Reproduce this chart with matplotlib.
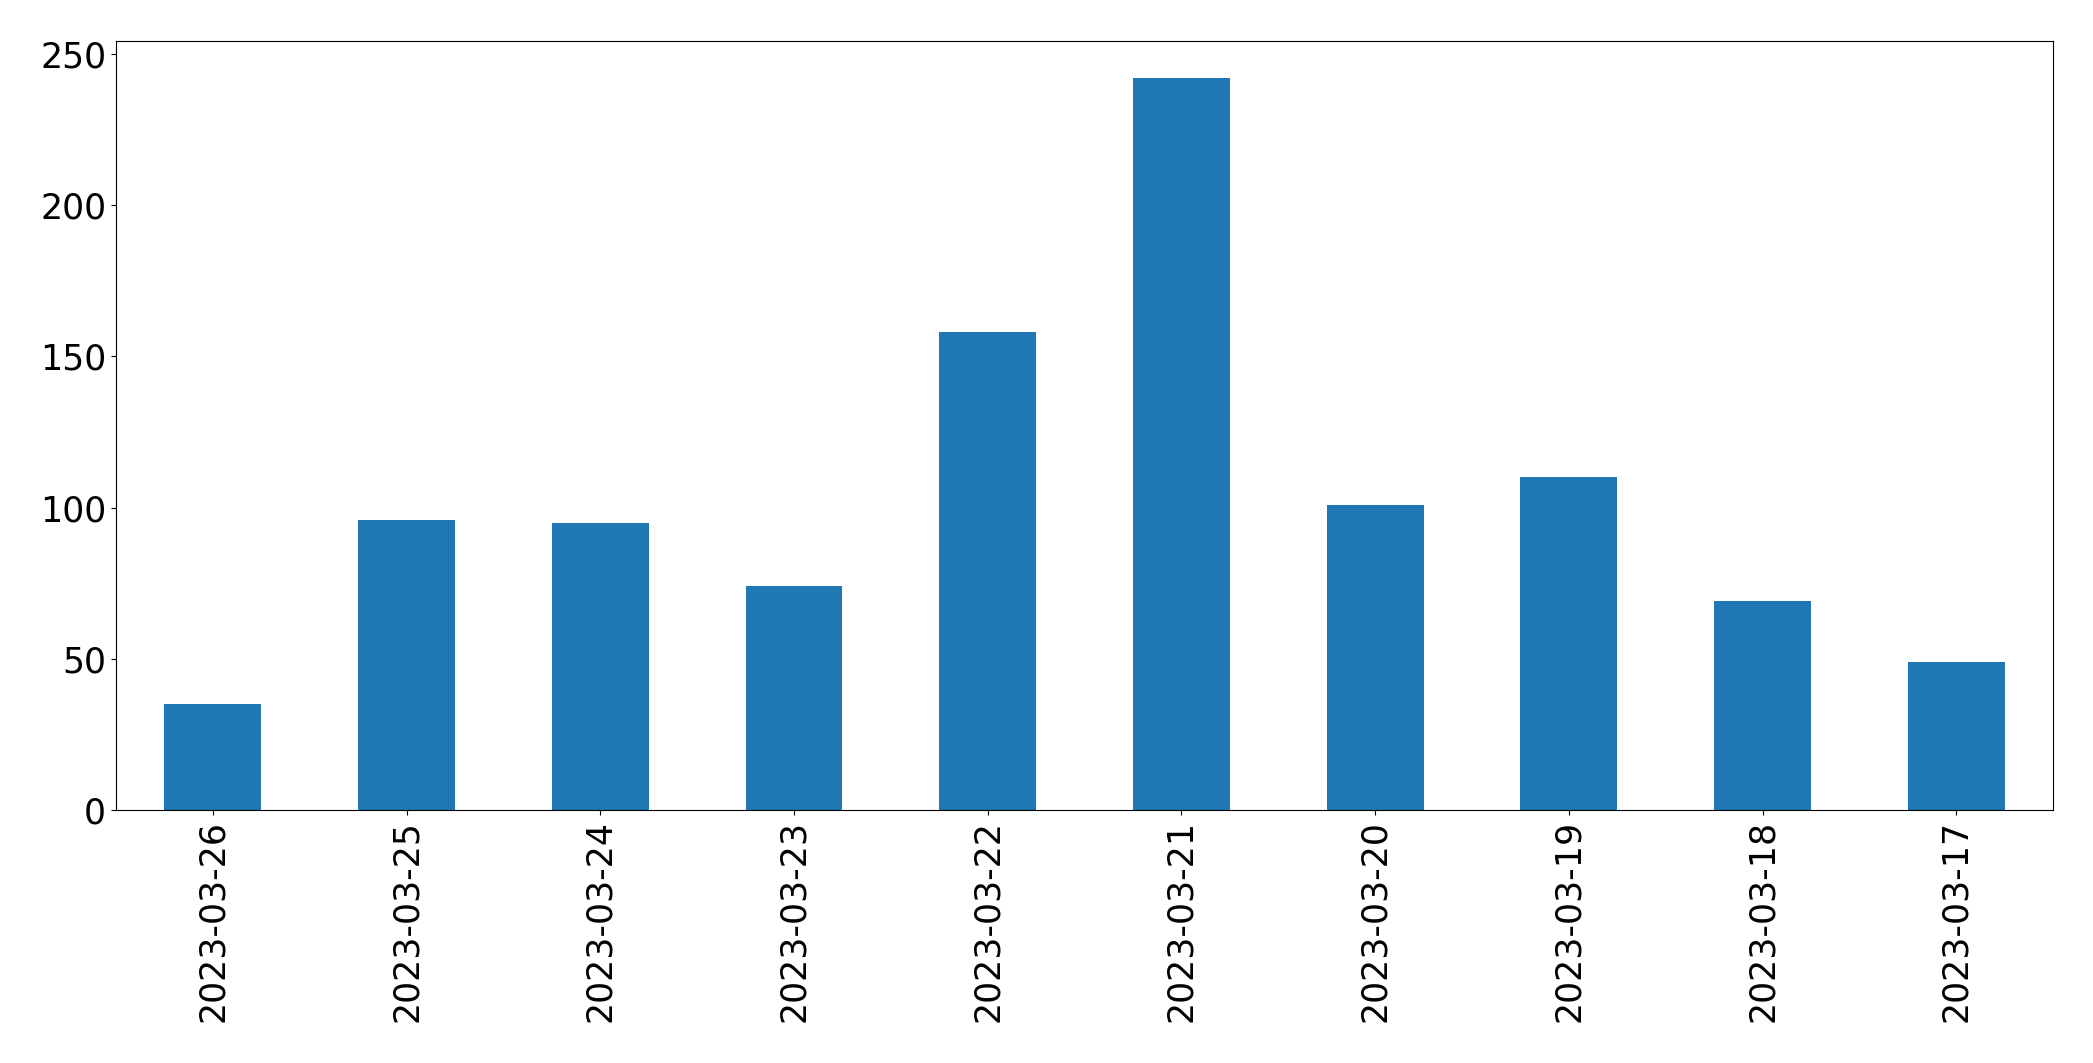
import matplotlib
matplotlib.use("Agg")
import matplotlib.pyplot as plt
import numpy as np

dates = ["2023-03-26", "2023-03-25", "2023-03-24", "2023-03-23", "2023-03-22",
         "2023-03-21", "2023-03-20", "2023-03-19", "2023-03-18", "2023-03-17"]
counts = [35, 96, 95, 74, 158, 242, 101, 110, 69, 49]

fig = plt.figure(figsize=(20.93, 10.63), dpi=100)
ax = fig.add_axes([0.0554, 0.238, 0.9256, 0.723])

x = np.arange(len(dates))
ax.bar(x, counts, width=0.5, color="#1f77b4")
ax.set_xlim(-0.5, len(dates) - 0.5)
ax.set_xticks(x)
ax.set_xticklabels(dates, rotation=90)
ax.tick_params(axis="both", labelsize=25)

fig.savefig("out.png", dpi=100)
